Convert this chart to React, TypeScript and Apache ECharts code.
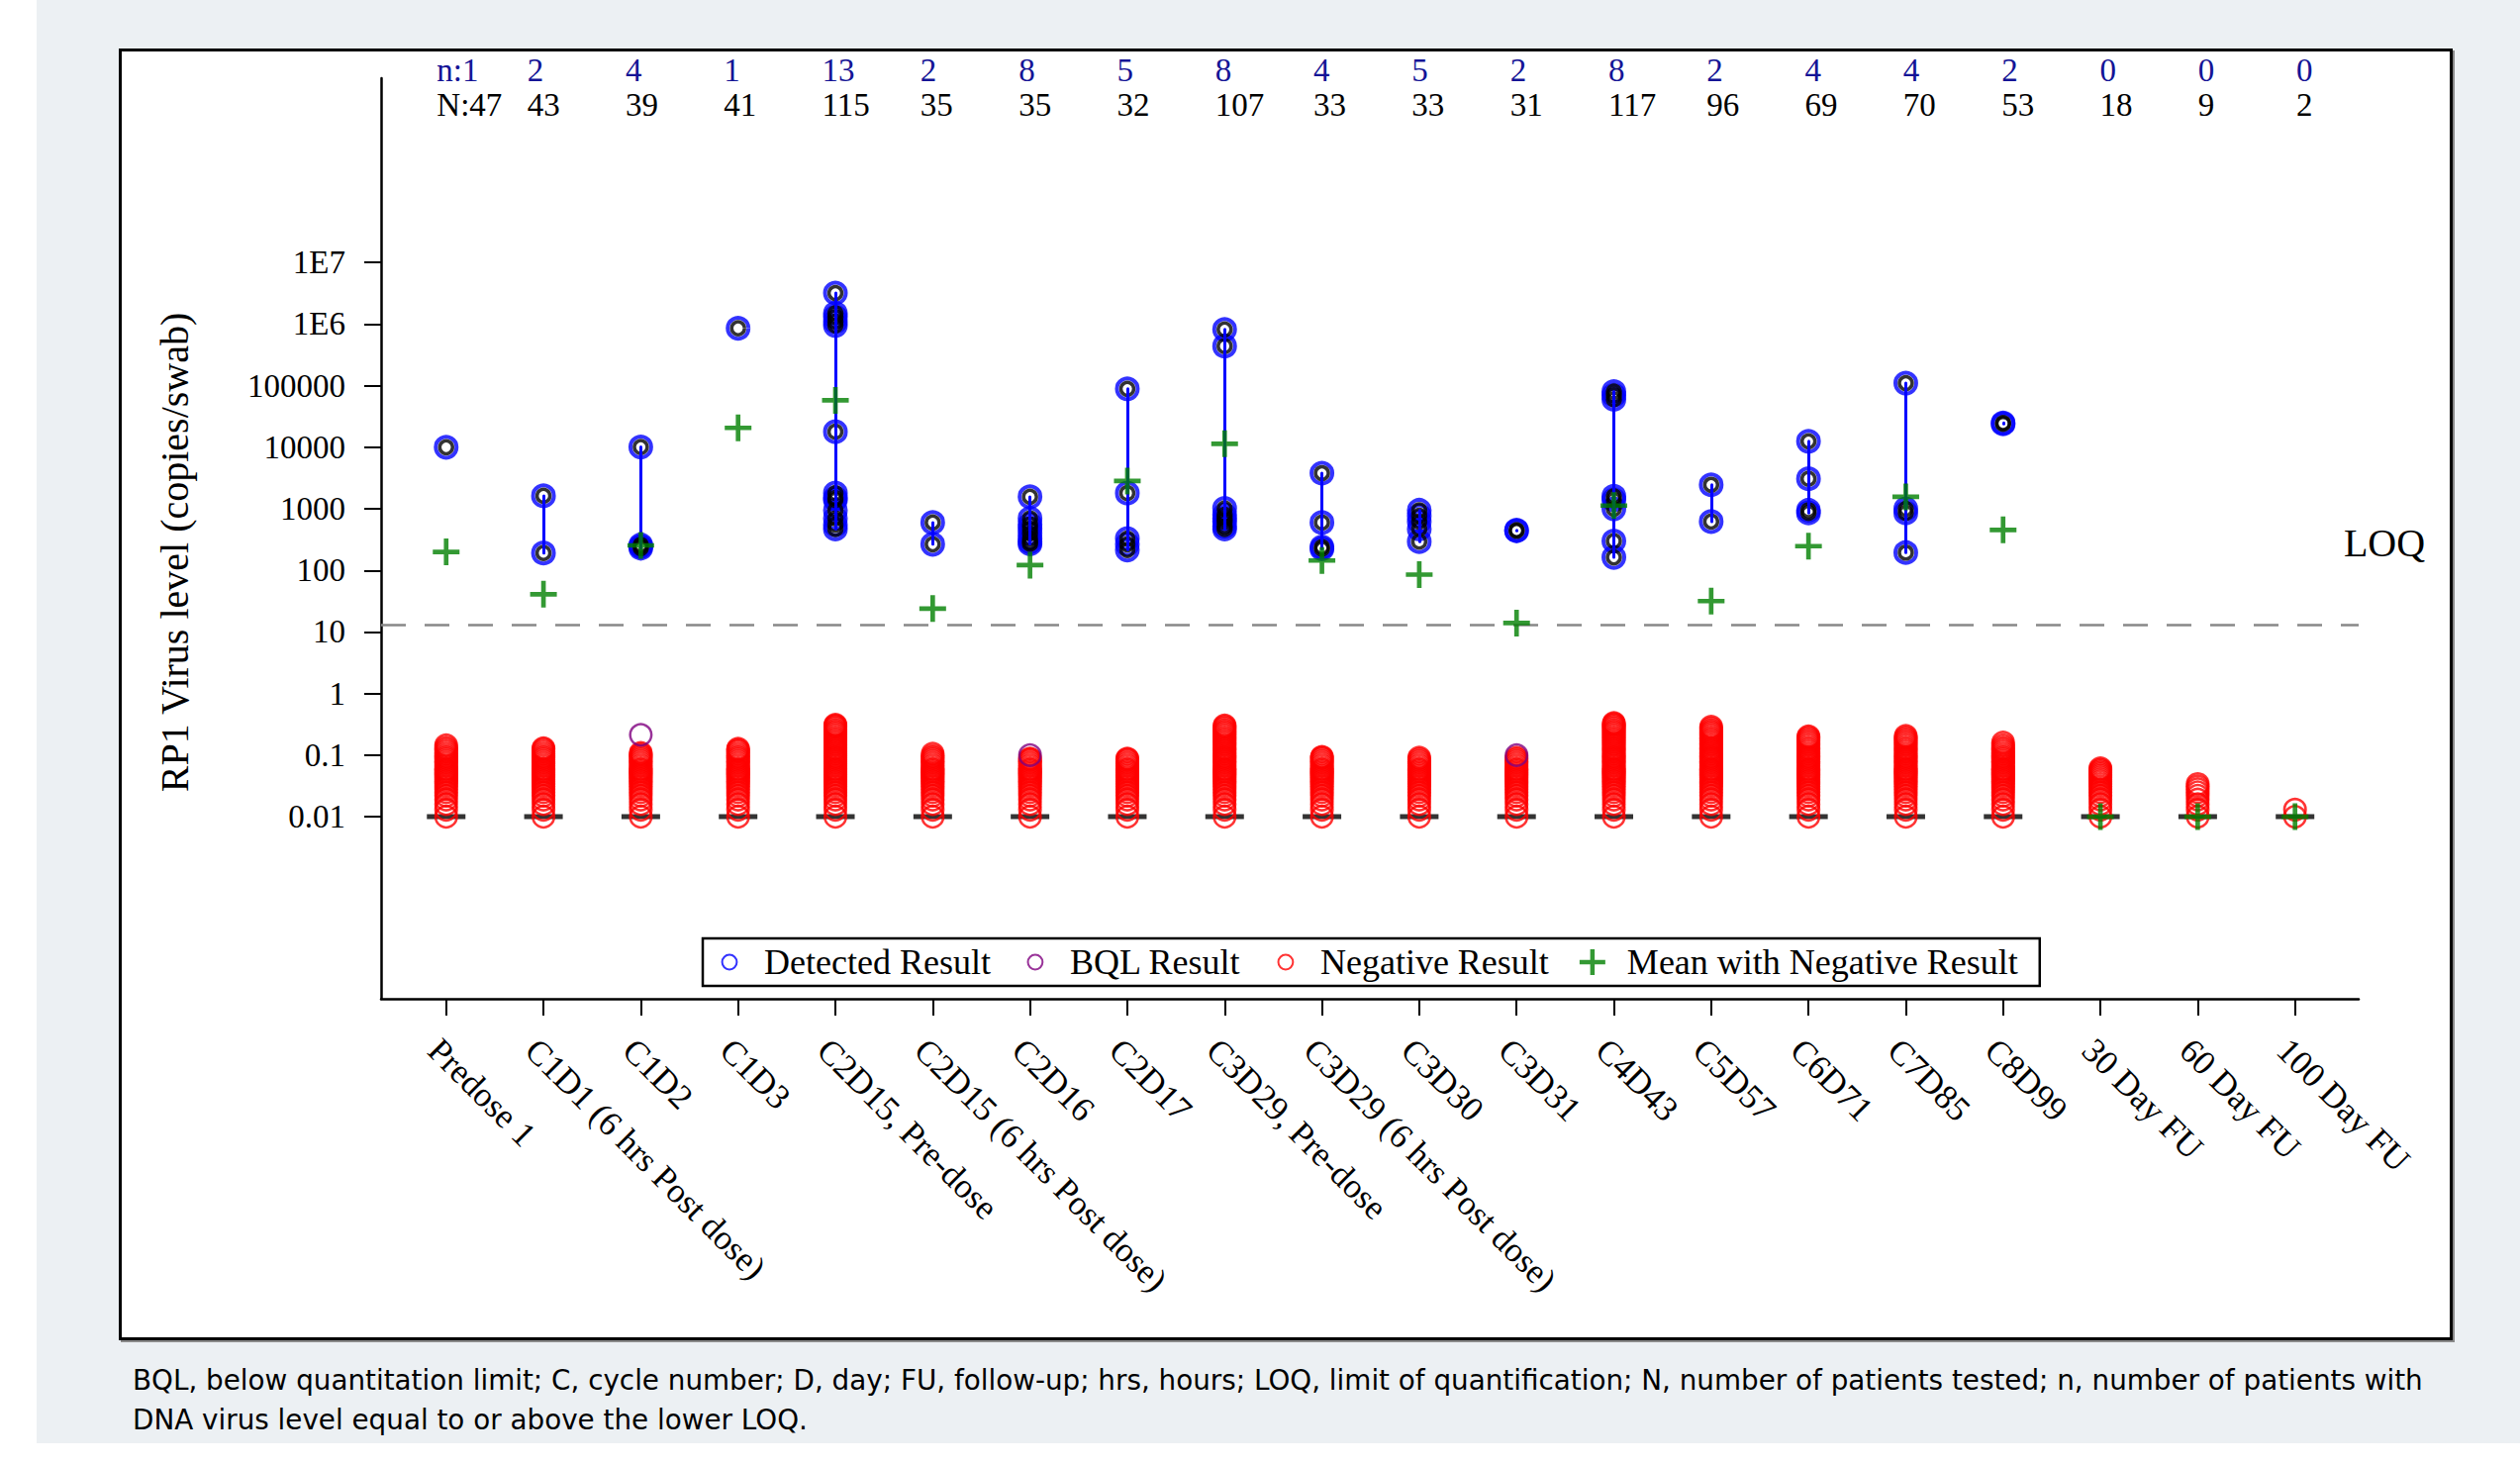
import React, { useEffect, useRef } from 'react';
import * as echarts from 'echarts';

// ---------- data ----------
const categories = [
  'Predose 1', 'C1D1 (6 hrs Post dose)', 'C1D2', 'C1D3', 'C2D15, Pre-dose',
  'C2D15 (6 hrs Post dose)', 'C2D16', 'C2D17', 'C3D29, Pre-dose', 'C3D29 (6 hrs Post dose)',
  'C3D30', 'C3D31', 'C4D43', 'C5D57', 'C6D71', 'C7D85', 'C8D99', '30 Day FU', '60 Day FU', '100 Day FU',
];
const nCounts = [1, 2, 4, 1, 13, 2, 8, 5, 8, 4, 5, 2, 8, 2, 4, 4, 2, 0, 0, 0];
const NCounts = [47, 43, 39, 41, 115, 35, 35, 32, 107, 33, 33, 31, 117, 96, 69, 70, 53, 18, 9, 2];

const yTickValues = [0.01, 0.1, 1, 10, 100, 1000, 10000, 100000, 1000000, 10000000];
const yTickLabels = ['0.01', '0.1', '1', '10', '100', '1000', '10000', '100000', '1E6', '1E7'];
const LOQ = 12.8;

const detected: number[][] = [
  [10000],
  [1630, 192],
  [10100, 260, 245, 230],
  [857000],
  [3200000, 1500000, 1300000, 1100000, 950000, 17900, 1800, 1500, 1400, 950, 700, 550, 470],
  [600, 266],
  [1570, 700, 560, 480, 400, 330, 290, 270],
  [88900, 1800, 330, 266, 215],
  [820000, 440000, 1020, 800, 700, 620, 520, 470],
  [3800, 600, 240, 225],
  [950, 770, 620, 470, 294],
  [450, 440],
  [80000, 70000, 60000, 1600, 1400, 1000, 300, 163],
  [2460, 622],
  [12500, 3080, 950, 860],
  [110000, 1000, 860, 195],
  [24800, 24000],
  [],
  [],
  [],
];

const meanValues = [200, 41, 255, 20650, 58000, 24, 122, 2840, 11400, 145, 85.5, 14, 1130, 31.8, 248, 1566, 456, 0.01, 0.01, 0.01];

const bqlPoints: [number, number][] = [[2, 0.214], [6, 0.1], [11, 0.1]];

const medianValues = [0.01, 0.01, 0.01, 0.01, 0.01, 0.01, 0.01, 0.01, 0.01, 0.01, 0.01, 0.01, 0.01, 0.01, 0.01, 0.01, 0.01, 0.01, 0.01, 0.01];

const negativeValues: number[][] = [
  [0.010, 0.013, 0.016, 0.019, 0.022, 0.025, 0.028, 0.031, 0.034, 0.037, 0.040, 0.043, 0.046, 0.049, 0.052, 0.055, 0.058, 0.061, 0.067, 0.073, 0.079, 0.085, 0.091, 0.097, 0.106, 0.115, 0.124, 0.133, 0.145],
  [0.010, 0.013, 0.016, 0.019, 0.022, 0.025, 0.028, 0.031, 0.034, 0.037, 0.040, 0.043, 0.046, 0.049, 0.052, 0.055, 0.058, 0.061, 0.067, 0.073, 0.079, 0.085, 0.091, 0.097, 0.106, 0.115, 0.124, 0.130],
  [0.010, 0.013, 0.016, 0.019, 0.022, 0.025, 0.028, 0.031, 0.034, 0.037, 0.040, 0.043, 0.046, 0.049, 0.052, 0.055, 0.058, 0.061, 0.067, 0.073, 0.079, 0.085, 0.091, 0.097, 0.103, 0.109],
  [0.010, 0.013, 0.016, 0.019, 0.022, 0.025, 0.028, 0.031, 0.034, 0.037, 0.040, 0.043, 0.046, 0.049, 0.052, 0.055, 0.058, 0.061, 0.067, 0.073, 0.079, 0.085, 0.091, 0.097, 0.106, 0.115, 0.121, 0.127],
  [0.010, 0.013, 0.016, 0.019, 0.022, 0.025, 0.028, 0.031, 0.034, 0.037, 0.040, 0.043, 0.046, 0.049, 0.052, 0.055, 0.058, 0.061, 0.067, 0.073, 0.079, 0.085, 0.091, 0.097, 0.106, 0.115, 0.124, 0.133, 0.145, 0.157, 0.169, 0.181, 0.193, 0.208, 0.223, 0.238, 0.253, 0.271, 0.289, 0.301, 0.313],
  [0.010, 0.013, 0.016, 0.019, 0.022, 0.025, 0.028, 0.031, 0.034, 0.037, 0.040, 0.043, 0.046, 0.049, 0.052, 0.055, 0.058, 0.061, 0.067, 0.073, 0.079, 0.085, 0.091, 0.097, 0.106],
  [0.010, 0.013, 0.016, 0.019, 0.022, 0.025, 0.028, 0.031, 0.034, 0.037, 0.040, 0.043, 0.046, 0.049, 0.052, 0.055, 0.058, 0.061, 0.067, 0.073, 0.079, 0.085, 0.088],
  [0.010, 0.013, 0.016, 0.019, 0.022, 0.025, 0.028, 0.031, 0.034, 0.037, 0.040, 0.043, 0.046, 0.049, 0.052, 0.055, 0.058, 0.061, 0.067, 0.073, 0.079, 0.085, 0.088],
  [0.010, 0.013, 0.016, 0.019, 0.022, 0.025, 0.028, 0.031, 0.034, 0.037, 0.040, 0.043, 0.046, 0.049, 0.052, 0.055, 0.058, 0.061, 0.067, 0.073, 0.079, 0.085, 0.091, 0.097, 0.106, 0.115, 0.124, 0.133, 0.145, 0.157, 0.169, 0.181, 0.193, 0.208, 0.223, 0.238, 0.253, 0.271, 0.289, 0.304],
  [0.010, 0.013, 0.016, 0.019, 0.022, 0.025, 0.028, 0.031, 0.034, 0.037, 0.040, 0.043, 0.046, 0.049, 0.052, 0.055, 0.058, 0.061, 0.067, 0.073, 0.079, 0.085, 0.091, 0.094],
  [0.010, 0.013, 0.016, 0.019, 0.022, 0.025, 0.028, 0.031, 0.034, 0.037, 0.040, 0.043, 0.046, 0.049, 0.052, 0.055, 0.058, 0.061, 0.067, 0.073, 0.079, 0.085, 0.091],
  [0.010, 0.013, 0.016, 0.019, 0.022, 0.025, 0.028, 0.031, 0.034, 0.037, 0.040, 0.043, 0.046, 0.049, 0.052, 0.055, 0.058, 0.061, 0.067, 0.073, 0.079, 0.085, 0.091],
  [0.010, 0.013, 0.016, 0.019, 0.022, 0.025, 0.028, 0.031, 0.034, 0.037, 0.040, 0.043, 0.046, 0.049, 0.052, 0.055, 0.058, 0.061, 0.067, 0.073, 0.079, 0.085, 0.091, 0.097, 0.106, 0.115, 0.124, 0.133, 0.145, 0.157, 0.169, 0.181, 0.193, 0.208, 0.223, 0.238, 0.253, 0.271, 0.289, 0.307, 0.322, 0.334],
  [0.010, 0.013, 0.016, 0.019, 0.022, 0.025, 0.028, 0.031, 0.034, 0.037, 0.040, 0.043, 0.046, 0.049, 0.052, 0.055, 0.058, 0.061, 0.067, 0.073, 0.079, 0.085, 0.091, 0.097, 0.106, 0.115, 0.124, 0.133, 0.145, 0.157, 0.169, 0.181, 0.193, 0.208, 0.223, 0.238, 0.253, 0.271, 0.289],
  [0.010, 0.013, 0.016, 0.019, 0.022, 0.025, 0.028, 0.031, 0.034, 0.037, 0.040, 0.043, 0.046, 0.049, 0.052, 0.055, 0.058, 0.061, 0.067, 0.073, 0.079, 0.085, 0.091, 0.097, 0.106, 0.115, 0.124, 0.133, 0.145, 0.157, 0.169, 0.181, 0.193, 0.202],
  [0.010, 0.013, 0.016, 0.019, 0.022, 0.025, 0.028, 0.031, 0.034, 0.037, 0.040, 0.043, 0.046, 0.049, 0.052, 0.055, 0.058, 0.061, 0.067, 0.073, 0.079, 0.085, 0.091, 0.097, 0.106, 0.115, 0.124, 0.133, 0.145, 0.157, 0.169, 0.181, 0.193, 0.205],
  [0.010, 0.013, 0.016, 0.019, 0.022, 0.025, 0.028, 0.031, 0.034, 0.037, 0.040, 0.043, 0.046, 0.049, 0.052, 0.055, 0.058, 0.061, 0.067, 0.073, 0.079, 0.085, 0.091, 0.097, 0.106, 0.115, 0.124, 0.133, 0.145, 0.160],
  [0.010, 0.013, 0.016, 0.019, 0.022, 0.025, 0.028, 0.031, 0.034, 0.037, 0.040, 0.043, 0.046, 0.049, 0.052, 0.055, 0.058, 0.061],
  [0.010, 0.013, 0.016, 0.019, 0.022, 0.025, 0.028, 0.031, 0.034],
  [0.010, 0.013],
];

const footnote1 = 'BQL, below quantitation limit; C, cycle number; D, day; FU, follow-up; hrs, hours; LOQ, limit of quantification; N, number of patients tested; n, number of patients with';
const footnote2 = 'DNA virus level equal to or above the lower LOQ.';

// ---------- layout ----------
const X_MIN = -0.669;
const X_MAX = 19.654;
const Y_MIN = -4.956;
const Y_MAX = 9.994;

const lg = (v: number) => Math.log10(v);

export default function App() {
  const ref = useRef<HTMLDivElement>(null);

  useEffect(() => {
    if (!ref.current) return;
    const chart = echarts.init(ref.current, undefined, { renderer: 'svg' });
    const serif = 'Liberation Serif';
    const xIdx = categories.map((_, i) => i);
    const yTicks = yTickValues.map(lg);

    const negData = negativeValues.flatMap((arr, i) => arr.map((v) => [i, lg(v)]));
    const detData = detected.flatMap((arr, i) => arr.map((v) => [i, lg(v)]));
    const rangeData = detected
      .map((arr, i) => (arr.length ? { coords: [[i, lg(Math.max(...arr))], [i, lg(Math.min(...arr))]] } : null))
      .filter((d) => d !== null);
    const meanData = meanValues.map((v, i) => [i, lg(v)]);
    const medData = medianValues.map((v, i) => [i, lg(v)]);
    const bqlData = bqlPoints.map(([i, v]) => [i, lg(v)]);

    const plusPath = 'path://M10.75,0H15.25V10.75H26V15.25H15.25V26H10.75V15.25H0V10.75H10.75Z';
    const ringIcon = 'path://M0,0M26,26M20.4,13A7.4,7.4,0,1,1,5.6,13A7.4,7.4,0,1,1,20.4,13Z';

    const axisLineStyle = { color: '#000', width: 2.5 };

    const option: any = {
      animation: false,
      grid: [
        { left: 385, top: 79, width: 1998, height: 930 },
        { left: 385, top: 20, width: 1998, height: 33.5 },
      ],
      xAxis: [
        {
          type: 'value', gridIndex: 0, min: X_MIN, max: X_MAX,
          axisLine: { show: true, onZero: false, lineStyle: axisLineStyle },
          axisTick: { show: true, customValues: xIdx, length: 17, lineStyle: { color: '#000', width: 2 } },
          axisLabel: {
            show: true, customValues: xIdx,
            formatter: (v: number) => categories[Math.round(v)],
            rotate: -45, align: 'left', verticalAlign: 'top', margin: 34,
            fontFamily: serif, fontSize: 35, color: '#000',
          },
          splitLine: { show: false },
        },
        {
          type: 'value', gridIndex: 1, min: -0.487, max: 19.634, position: 'bottom',
          axisLine: { show: false }, axisTick: { show: false }, splitLine: { show: false },
          axisLabel: {
            show: true, customValues: xIdx, align: 'left', verticalAlign: 'top', margin: 0,
            formatter: (v: number) => {
              const i = Math.round(v);
              if (i === 0) return `{n0|n:${nCounts[i]}}\n{N0|N:${NCounts[i]}}`;
              return `{n|${nCounts[i]}}\n{N|${NCounts[i]}}`;
            },
            rich: {
              n: { fontFamily: serif, fontSize: 33, lineHeight: 35, color: '#141496' },
              N: { fontFamily: serif, fontSize: 33, lineHeight: 35, color: '#000' },
              n0: { fontFamily: serif, fontSize: 33, lineHeight: 35, color: '#141496', padding: [0, 0, 0, 8] },
              N0: { fontFamily: serif, fontSize: 33, lineHeight: 35, color: '#000', padding: [0, 0, 0, 8] },
            },
          },
        },
      ],
      yAxis: [
        {
          type: 'value', gridIndex: 0, min: Y_MIN, max: Y_MAX,
          axisLine: { show: true, onZero: false, lineStyle: axisLineStyle },
          axisTick: { show: true, customValues: yTicks, length: 17, lineStyle: { color: '#000', width: 2 } },
          axisLabel: {
            show: true, customValues: yTicks, margin: 36,
            formatter: (v: number) => {
              const k = yTicks.findIndex((t) => Math.abs(t - v) < 1e-6);
              return k >= 0 ? yTickLabels[k] : '';
            },
            fontFamily: serif, fontSize: 33, color: '#000',
          },
          splitLine: { show: false },
        },
        { type: 'value', gridIndex: 1, show: false, min: 0, max: 1 },
      ],
      legend: {
        left: 710, top: 948, orient: 'horizontal',
        padding: [6, 22, 6, 13],
        itemWidth: 26, itemHeight: 26, itemGap: 31,
        borderColor: '#000', borderWidth: 2.5, backgroundColor: '#fff',
        selectedMode: false,
        textStyle: { fontFamily: serif, fontSize: 36, color: '#000', padding: [0, 0, 0, 17] },
        data: [
          { name: 'Detected Result', icon: ringIcon },
          { name: 'BQL Result', icon: ringIcon },
          { name: 'Negative Result', icon: ringIcon },
          { name: 'Mean with Negative Result', icon: plusPath },
        ],
      },
      graphic: [
        {
          type: 'text', x: 176, y: 558, rotation: Math.PI / 2,
          style: { text: 'RP1 Virus level (copies/swab)', fontFamily: serif, fontSize: 40, fill: '#000', align: 'center', verticalAlign: 'middle' },
        },
        {
          type: 'text', x: 2409, y: 548,
          style: { text: 'LOQ', fontFamily: serif, fontSize: 40, fill: '#000', align: 'center', verticalAlign: 'middle' },
        },
        {
          type: 'text', x: 134, y: 1394,
          style: { text: footnote1, fontFamily: 'DejaVu Sans', fontSize: 27.8, fill: '#000', align: 'left', verticalAlign: 'middle' },
        },
        {
          type: 'text', x: 134, y: 1434,
          style: { text: footnote2, fontFamily: 'DejaVu Sans', fontSize: 27.8, fill: '#000', align: 'left', verticalAlign: 'middle' },
        },
      ],
      series: [
        {
          name: '_median', type: 'scatter', xAxisIndex: 0, yAxisIndex: 0, z: 2, silent: true,
          symbol: 'rect', symbolSize: [39, 5], itemStyle: { color: '#000' }, data: medData,
          markLine: {
            silent: true, symbol: 'none', label: { show: false },
            lineStyle: { color: '#888', width: 2.5, type: [25, 19] },
            data: [{ yAxis: lg(LOQ) }],
          },
        },
        {
          name: 'Negative Result', type: 'scatter', xAxisIndex: 0, yAxisIndex: 0, z: 3,
          symbol: 'circle', symbolSize: 21.5,
          itemStyle: { color: 'rgba(0,0,0,0)', borderColor: '#ff0000', borderWidth: 2.6 },
          data: negData,
        },
        {
          name: 'BQL Result', type: 'scatter', xAxisIndex: 0, yAxisIndex: 0, z: 4,
          symbol: 'circle', symbolSize: 21.5,
          itemStyle: { color: 'rgba(0,0,0,0)', borderColor: '#800080', borderWidth: 2.5 },
          data: bqlData,
        },
        {
          name: 'Detected Result', type: 'scatter', xAxisIndex: 0, yAxisIndex: 0, z: 5,
          symbol: 'circle', symbolSize: 21,
          itemStyle: { color: 'rgba(0,0,0,0)', borderColor: '#0000ff', borderWidth: 4 },
          data: detData,
        },
        {
          name: '_detInner', type: 'scatter', xAxisIndex: 0, yAxisIndex: 0, z: 6, silent: true,
          symbol: 'circle', symbolSize: 13,
          itemStyle: { color: 'rgba(0,0,0,0)', borderColor: '#000', borderWidth: 3.5 },
          data: detData,
        },
        {
          name: '_range', type: 'lines', coordinateSystem: 'cartesian2d', xAxisIndex: 0, yAxisIndex: 0, z: 7, silent: true,
          polyline: false,
          lineStyle: { color: '#0000ff', width: 3, opacity: 1, cap: 'round', curveness: 0 },
          data: rangeData,
        },
        {
          name: 'Mean with Negative Result', type: 'scatter', xAxisIndex: 0, yAxisIndex: 0, z: 8,
          symbol: plusPath, symbolSize: 27, itemStyle: { color: '#008000' },
          data: meanData,
        },
      ],
    };

    chart.setOption(option);
    return () => chart.dispose();
  }, []);

  return (
    <div style={{ position: 'fixed', left: 0, top: 0, width: 2546, height: 1479, background: '#fff', overflow: 'hidden' }}>
      <div style={{ position: 'absolute', left: 37, top: 0, width: 2509, height: 1458, background: '#ecf0f3' }} />
      <div
        style={{
          position: 'absolute', left: 120, top: 49, width: 2358, height: 1305, boxSizing: 'border-box',
          background: '#fff', border: '3px solid #000', boxShadow: '2px 2px 0 #8a8a8a',
        }}
      />
      <div ref={ref} style={{ position: 'absolute', left: 0, top: 0, width: 2546, height: 1479 }} />
    </div>
  );
}
